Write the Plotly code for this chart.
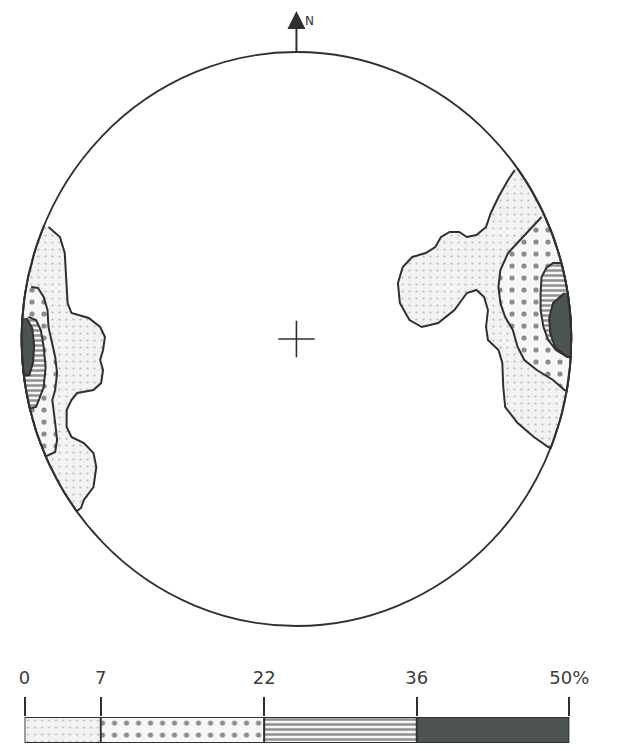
import numpy as np
import plotly.graph_objects as go

INK = "#303030"
R = 287  # net radius, drawing units (1 unit ~ 1 px of the original)
NORTH_TIP = 328

# contour outlines on the net, east / north from the centre
# left cluster
west_0_x = [-259, -247, -242, -240, -239, -235, -217, -205, -200, -202, -205, -202, -204, -212,
            -229, -235, -240, -240, -235, -222, -212, -209, -212, -222, -225]
west_0_y = [112, 102, 86, 59, 36, 26, 21, 12, 2, -11, -21, -31, -44, -51,
            -54, -61, -71, -88, -98, -104, -114, -128, -148, -161, -169]
west_7_x = [-277, -270, -264, -260, -259, -255, -252, -250, -252, -255, -254, -252, -250, -252]
west_7_y = [52, 51, 42, 29, 12, -4, -18, -34, -51, -61, -71, -84, -101, -113]
west_22_x = [-280, -272, -267, -264, -262, -264, -269, -272]
west_22_y = [22, 19, 9, -8, -28, -48, -61, -68]
west_36_x = [-282, -276, -274, -275, -279]
west_36_y = [21, 11, -6, -23, -36]

# right cluster
east_0_x = [228, 221, 211, 203, 198, 188, 178, 170, 160, 151, 145, 135, 121, 111, 106, 108,
            118, 131, 148, 165, 178, 188, 196, 200, 198, 200, 211, 215, 216, 218, 231, 248, 263]
east_0_y = [169, 159, 142, 126, 112, 104, 102, 107, 107, 102, 92, 86, 82, 72, 56, 36,
            19, 12, 16, 29, 46, 49, 42, 29, 12, -1, -11, -24, -48, -68, -84, -98, -108]
east_7_x = [256, 248, 241, 231, 221, 213, 211, 213, 218, 226, 231, 238, 251, 268, 280]
east_7_y = [122, 114, 106, 97, 86, 69, 52, 36, 22, 9, -8, -21, -31, -41, -51]
east_22_x = [276, 268, 261, 256, 255, 255, 258, 263, 271, 283]
east_22_y = [76, 76, 71, 62, 46, 29, 12, -1, -11, -18]
east_36_x = [280, 268, 264, 265, 270, 283]
east_36_y = [46, 36, 21, 6, -8, -18]

legend_breaks = [0, 7, 22, 36, 50]
legend_labels = ["0", "7", "22", "36", "50%"]

styles = [
    dict(fillcolor="#f2f2f2", fillpattern=dict(shape=".", size=7, solidity=0.08,
                                               fgcolor="#858585", bgcolor="#f2f2f2")),
    dict(fillcolor="white", fillpattern=dict(shape=".", size=12, solidity=0.15,
                                             fgcolor="#222222", bgcolor="#f7f7f7")),
    dict(fillcolor="white", fillpattern=dict(shape="-", size=5, solidity=0.5,
                                             fgcolor="#2a2a2a", bgcolor="#f7f7f7")),
    dict(fillcolor="#4d534e", fillpattern=None),
]


def close_on_net(xs, ys, n=40):
    # run back along the primitive circle from the last point to the first
    a0 = np.arctan2(ys[0], xs[0])
    a1 = np.arctan2(ys[-1], xs[-1])
    d = (a0 - a1 + np.pi) % (2 * np.pi) - np.pi
    t = np.linspace(a1, a1 + d, n)
    return list(xs) + list(R * np.cos(t)), list(ys) + list(R * np.sin(t))


fig = go.Figure()

contours = [
    (west_0_x, west_0_y, 0), (west_7_x, west_7_y, 1), (west_22_x, west_22_y, 2), (west_36_x, west_36_y, 3),
    (east_0_x, east_0_y, 0), (east_7_x, east_7_y, 1), (east_22_x, east_22_y, 2), (east_36_x, east_36_y, 3),
]
for xs, ys, k in contours:
    cx, cy = close_on_net(xs, ys)
    st = styles[k]
    kw = dict(fillcolor=st["fillcolor"])
    if st["fillpattern"]:
        kw["fillpattern"] = st["fillpattern"]
    fig.add_trace(go.Scatter(x=cx, y=cy, mode="lines", fill="toself",
                             line=dict(color=INK, width=2), hoverinfo="skip", **kw))

# centre cross
fig.add_trace(go.Scatter(x=[0], y=[0], mode="markers", hoverinfo="skip",
                         marker=dict(symbol="cross-thin", size=26, line=dict(color=INK, width=1.6))))

# primitive circle
fig.add_shape(type="circle", xref="x", yref="y", x0=-R, y0=-R, x1=R, y1=R,
              line=dict(color=INK, width=1.8))

# north arrow
fig.add_trace(go.Scatter(x=[0, 0], y=[R, NORTH_TIP - 10], mode="lines", hoverinfo="skip",
                         line=dict(color=INK, width=2)))
fig.add_trace(go.Scatter(x=[0], y=[NORTH_TIP], mode="markers", hoverinfo="skip",
                         marker=dict(symbol="arrow-up", size=18, color=INK, line=dict(width=0))))
fig.add_annotation(x=14, y=NORTH_TIP - 10, xref="x", yref="y", text="N", showarrow=False,
                   font=dict(family="DejaVu Sans", size=12, color=INK))

# legend bar
widths = np.diff(legend_breaks)
for i, (b, w) in enumerate(zip(legend_breaks[:-1], widths)):
    st = styles[i]
    marker = dict(color=st["fillcolor"], line=dict(color=INK, width=1.8))
    if st["fillpattern"]:
        marker["pattern"] = st["fillpattern"]
    fig.add_trace(go.Bar(y=[0], x=[w], base=[b], orientation="h", width=1,
                         xaxis="x2", yaxis="y2", marker=marker, hoverinfo="skip"))

fig.update_layout(
    width=611, height=735, autosize=False,
    margin=dict(l=0, r=0, t=0, b=0),
    paper_bgcolor="white", plot_bgcolor="rgba(0,0,0,0)",
    showlegend=False, barmode="overlay",
    xaxis=dict(range=[-295, 316], visible=False, domain=[0, 1]),
    yaxis=dict(range=[-404, 331], visible=False, domain=[0, 1]),
    xaxis2=dict(domain=[11 / 611, 580 / 611], anchor="y2", range=[0, 50], side="top",
                tickvals=legend_breaks, ticktext=legend_labels, ticks="outside", ticklen=19,
                tickwidth=1.8, tickcolor=INK, showgrid=False, zeroline=False, showline=False,
                ticklabelstandoff=6,
                tickfont=dict(family="DejaVu Sans", size=18, color="#3c3c3c")),
    yaxis2=dict(domain=[0, 26 / 735], anchor="x2", range=[-0.5, 0.5], visible=False),
)

fig.write_html("out.html")
